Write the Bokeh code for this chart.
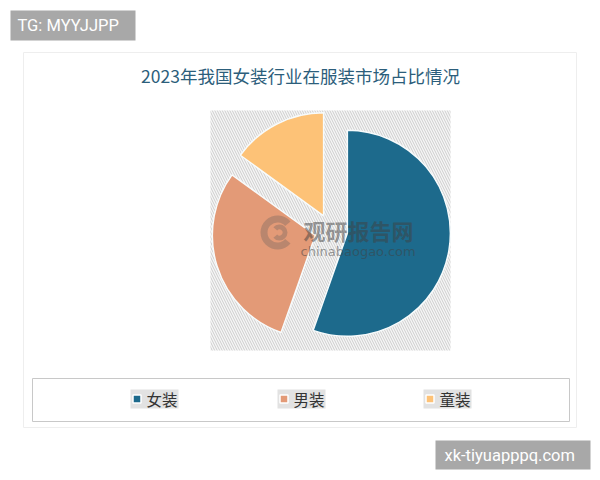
import numpy as np
from bokeh.plotting import figure
from bokeh.models import Range1d
from bokeh.core.properties import value
from bokeh.embed import file_html
from bokeh.resources import INLINE

# data
title = "2023年我国女装行业在服装市场占比情况"
categories = ["女装", "男装", "童装"]
shares = [55.4, 29.6, 15.0]
colors = ["#1d6a8c", "#e39a77", "#fdc277"]

CJK = value("Noto Sans CJK SC")
H = 480


def Y(y):
    # picture rows -> data y (y axis points up)
    return H - y


p = figure(width=592, height=472, x_range=Range1d(0, 592), y_range=Range1d(8, 480),
           x_axis_location=None, y_axis_location=None,
           output_backend="svg", toolbar_location=None, min_border=0)
p.grid.visible = False
p.outline_line_color = None
p.background_fill_color = "white"
p.border_fill_color = "white"

# card
p.quad(left=23, right=576, top=Y(52), bottom=Y(427), fill_color="white",
       line_color="#eeeeee", line_width=1)

# title
p.text(x=[300], y=[Y(75)], text=[title], text_font=CJK, text_font_size="17.5px",
       text_color="#2c5e7b", text_align="center", text_baseline="middle")

# hatched plot background
p.quad(left=210, right=450, top=Y(110), bottom=Y(350), fill_color="#f6f6f6",
       line_color=None, hatch_pattern="\\", hatch_color="#cdcdcd",
       hatch_scale=5, hatch_weight=1)

# exploded pie
cx0, cy0, r, explode = 330.6, Y(230), 103, 16.5
cum = np.concatenate([[0], np.cumsum(shares)]) / sum(shares) * 360
a0, a1 = cum[:-1], cum[1:]
mid = np.radians((a0 + a1) / 2)
p.wedge(x=cx0 + explode * np.sin(mid), y=cy0 + explode * np.cos(mid), radius=r,
        start_angle=np.radians(90 - a1), end_angle=np.radians(90 - a0),
        fill_color=colors, line_color="#f7fbfc", line_width=1.5)

# source watermark
p.annular_wedge(x=[277], y=[Y(232)], inner_radius=10, outer_radius=17,
                start_angle=np.radians(40), end_angle=np.radians(320),
                fill_color="#5a5a5a", fill_alpha=0.3, line_color=None)
p.annular_wedge(x=[279], y=[Y(232)], inner_radius=3, outer_radius=8,
                start_angle=np.radians(-140), end_angle=np.radians(140),
                fill_color="#5a5a5a", fill_alpha=0.3, line_color=None)
p.text(x=[303], y=[Y(229)], text=["观研报告网"], text_font=CJK, text_font_size="22px",
       text_font_style="bold", text_color="#404040", text_alpha=0.5,
       text_baseline="middle")
p.text(x=[300], y=[Y(251)], text=["chinabaogao.com"], text_font=value("DejaVu Sans"),
       text_font_size="13px", text_color="#404040", text_alpha=0.5,
       text_baseline="middle")

# legend
p.quad(left=32, right=569, top=Y(378), bottom=Y(421), fill_color="white",
       line_color="#c8c8c8", line_width=1)
item_x = [130, 277, 423]
ly = Y(398.5)
p.quad(left=item_x, right=[x + 48 for x in item_x], top=Y(389), bottom=Y(408),
       fill_color="#e2e2e2", line_color=None)
p.rect(x=[x + 6.5 for x in item_x], y=ly, width=8, height=8, fill_color=colors,
       line_color="white", line_width=1.5)
p.text(x=[x + 16 for x in item_x], y=ly, text=categories, text_font=CJK,
       text_font_size="15.5px", text_color="#333333", text_baseline="middle")

# overlay tags
p.quad(left=[10, 435], right=[135, 590], top=[Y(10), Y(440)], bottom=[Y(40), Y(469)],
       fill_color="#a8a8a8", line_color=None)
p.text(x=[17, 444], y=[Y(25), Y(455)], text=["TG: MYYJJPP", "xk-tiyuapppq.com"],
       text_font=value("Roboto"), text_font_size="16.5px",
       text_color="white", text_baseline="middle")

open("out.html", "w").write(file_html(p, INLINE))
